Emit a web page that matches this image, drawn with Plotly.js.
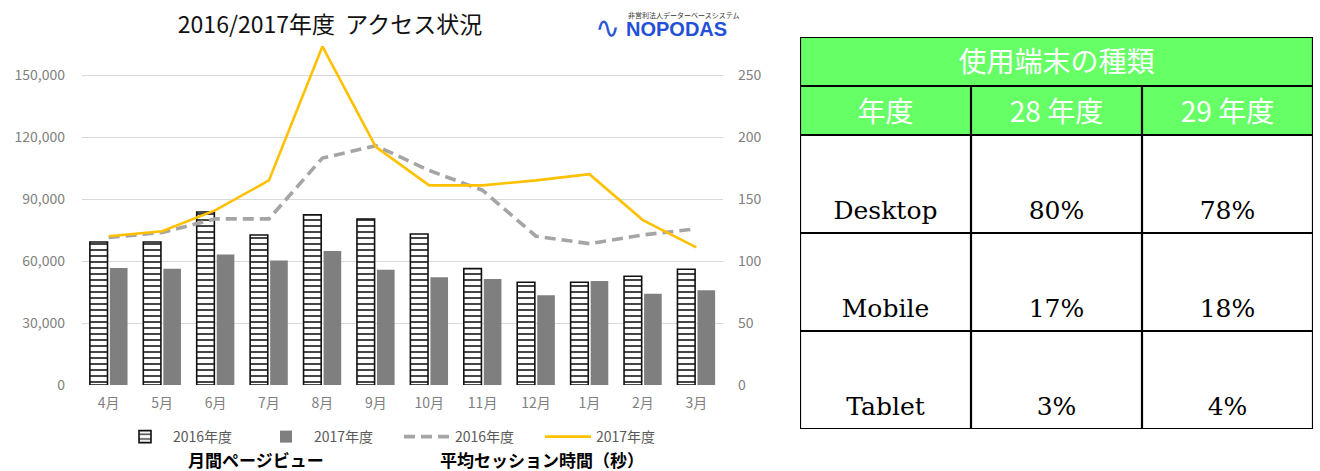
<!DOCTYPE html>
<html>
<head>
<meta charset="utf-8">
<script src="https://cdn.plot.ly/plotly-3.0.1.min.js"></script>
<style>
  html, body { margin: 0; padding: 0; background: #fff; }
  #chart { width: 1320px; height: 471px; }
</style>
</head>
<body>
<div id="chart"></div>
<script>
// ---- data ----
const months = ['4月', '5月', '6月', '7月', '8月', '9月', '10月', '11月', '12月', '1月', '2月', '3月'];
const pageViews2016 = [69200, 69200, 83700, 72600, 82300, 80300, 73100, 56300, 49700, 49700, 52600, 56000];
const pageViews2017 = [56600, 56300, 63100, 60300, 64800, 55800, 52100, 51300, 43400, 50300, 44200, 45800];
const session2016 = [119, 123, 134, 134, 183, 193, 173, 157, 120, 114, 121, 126];
const session2017 = [120, 124, 141, 165, 273, 192, 161, 161, 165, 170, 133, 111];
const leftTicks = [0, 30000, 60000, 90000, 120000, 150000];
const rightTicks = [0, 50, 100, 150, 200, 250];
const seriesNames = ['2016年度', '2017年度', '2016年度', '2017年度'];
const chartTitle = '2016/2017年度&nbsp;&nbsp;アクセス状況';
const leftAxisLabel = '月間ページビュー';
const rightAxisLabel = '平均セッション時間（秒）';

const tableTitle = '使用端末の種類';
const tableHeaders = ['年度', '28 年度', '29 年度'];
const devices = ['Desktop', 'Mobile', 'Tablet'];
const share28 = [80, 17, 3];
const share29 = [78, 18, 4];

// ---- layout helpers ----
const W = 1320, H = 471;
const px = v => v / W;
const py = v => (H - v) / H;
const JP = '"Noto Sans CJK JP", "Noto Sans", sans-serif';

// ---- chart traces ----
const traces = [
  {
    type: 'bar', name: seriesNames[0], x: months, y: pageViews2016,
    marker: {
      color: '#ffffff',
      line: { color: '#111111', width: 1.6 },
      pattern: { shape: '-', fgcolor: '#222222', bgcolor: '#ffffff', size: 6, solidity: 0.28, fillmode: 'replace' }
    },
    hoverinfo: 'skip'
  },
  {
    type: 'bar', name: seriesNames[1], x: months, y: pageViews2017,
    marker: { color: '#7f7f7f', line: { width: 0 } },
    hoverinfo: 'skip'
  },
  {
    type: 'scatter', mode: 'lines', name: seriesNames[2], x: months, y: session2016, yaxis: 'y2',
    line: { color: '#a5a5a5', width: 3.6, dash: '11px,6px' },
    hoverinfo: 'skip'
  },
  {
    type: 'scatter', mode: 'lines', name: seriesNames[3], x: months, y: session2017, yaxis: 'y2',
    line: { color: '#ffc000', width: 2.6 },
    hoverinfo: 'skip'
  }
];

// ---- table (drawn on its own hidden axes: columns 0..3, rows 0..8) ----
const nCols = tableHeaders.length;
const bodyRowSpan = 2;            // each body row spans two header-row units
const bodyTop = 2;                // title row + header row
const nUnits = bodyTop + devices.length * bodyRowSpan;

const headX = [nCols / 2].concat(tableHeaders.map((_, c) => c + 0.5));
const headY = [0.57].concat(tableHeaders.map(() => 1.6));
const headText = [tableTitle].concat(tableHeaders);

const bodyX = [], bodyY = [], bodyText = [];
devices.forEach((d, r) => {
  const yy = bodyTop + (r + 1) * bodyRowSpan - 0.42;
  [d, share28[r] + '%', share29[r] + '%'].forEach((t, c) => {
    bodyX.push(c + 0.5); bodyY.push(yy); bodyText.push(t);
  });
});

traces.push({
  type: 'scatter', mode: 'text', x: headX, y: headY, text: headText,
  xaxis: 'x3', yaxis: 'y3', showlegend: false, hoverinfo: 'skip', cliponaxis: false,
  textposition: 'middle center',
  textfont: { family: JP, size: 28, color: '#ffffff' }
});
traces.push({
  type: 'scatter', mode: 'text', x: bodyX, y: bodyY, text: bodyText,
  xaxis: 'x3', yaxis: 'y3', showlegend: false, hoverinfo: 'skip', cliponaxis: false,
  textposition: 'middle center',
  textfont: { family: '"DejaVu Serif", "Liberation Serif", serif', size: 25, color: '#000000' }
});

const shapes = [];
shapes.push({ type: 'rect', xref: 'x3', yref: 'y3', x0: 0, x1: nCols, y0: 0, y1: bodyTop,
  fillcolor: '#66ff66', line: { width: 0 }, layer: 'below' });
const hLines = [0, 1, 2];
devices.forEach((_, r) => hLines.push(bodyTop + (r + 1) * bodyRowSpan));
hLines.forEach(v => shapes.push({ type: 'line', xref: 'x3', yref: 'y3', x0: 0, x1: nCols, y0: v, y1: v,
  line: { color: '#000', width: 2.2 } }));
for (let c = 0; c <= nCols; c++) {
  const top = (c === 0 || c === nCols) ? 0 : 1;
  shapes.push({ type: 'line', xref: 'x3', yref: 'y3', x0: c, x1: c, y0: top, y1: nUnits,
    line: { color: '#000', width: 2.2 } });
}

const tickFont = { family: JP, size: 14, color: '#808080' };

const layout = {
  width: W, height: H,
  margin: { l: 0, r: 0, t: 0, b: 0 },
  paper_bgcolor: '#ffffff', plot_bgcolor: 'rgba(0,0,0,0)',
  font: { family: JP, color: '#595959', size: 14 },
  title: { text: chartTitle, x: px(330), xanchor: 'center', y: py(25), yanchor: 'middle',
    font: { family: JP, size: 23, color: '#111111' } },
  barmode: 'group', bargap: 0.25, bargroupgap: 0.12,
  showlegend: true,
  xaxis: { domain: [px(82), px(723)], anchor: 'y', showgrid: false, showline: false, zeroline: false,
    ticks: '', tickfont: tickFont, ticklabelstandoff: 8, fixedrange: true },
  yaxis: { domain: [86 / H, 458 / H], range: [0, 180000], tickvals: leftTicks, tickformat: ',d',
    showgrid: true, gridcolor: '#d9d9d9', gridwidth: 1, zeroline: false, showline: false, ticks: '',
    tickfont: tickFont, ticklabelstandoff: 16, fixedrange: true },
  yaxis2: { overlaying: 'y', side: 'right', anchor: 'x', range: [0, 300], tickvals: rightTicks,
    showgrid: false, zeroline: false, showline: false, ticks: '', tickfont: tickFont,
    ticklabelstandoff: 14, fixedrange: true },
  xaxis3: { domain: [px(800), px(1313)], range: [0, nCols], anchor: 'y3', visible: false, fixedrange: true },
  yaxis3: { domain: [42 / H, 434 / H], range: [nUnits, 0], anchor: 'x3', visible: false, fixedrange: true },
  legend: { orientation: 'h', x: px(117), xanchor: 'left', y: py(437), yanchor: 'middle',
    font: { family: JP, size: 14, color: '#595959' }, itemwidth: 46,
    entrywidth: 80, entrywidthmode: 'pixels', bgcolor: 'rgba(0,0,0,0)', traceorder: 'normal' },
  shapes: shapes,
  annotations: [
    { text: '<b>' + leftAxisLabel + '</b>', xref: 'paper', yref: 'paper', x: px(256), y: py(459),
      xanchor: 'center', yanchor: 'middle', showarrow: false, font: { family: JP, size: 17, color: '#000' } },
    { text: '<b>' + rightAxisLabel + '</b>', xref: 'paper', yref: 'paper', x: px(542), y: py(459),
      xanchor: 'center', yanchor: 'middle', showarrow: false, font: { family: JP, size: 17, color: '#000' } },
    { text: '<b>NOPODAS</b>', xref: 'paper', yref: 'paper', x: px(624), y: py(29),
      xanchor: 'left', yanchor: 'middle', showarrow: false,
      font: { family: '"Liberation Sans", Arial, sans-serif', size: 20, color: '#2350d8' } },
    { text: '非営利法人データーベースシステム', xref: 'paper', yref: 'paper', x: px(626), y: py(15),
      xanchor: 'left', yanchor: 'middle', showarrow: false, font: { family: JP, size: 7, color: '#333' } },
    { text: '∿', xref: 'paper', yref: 'paper', x: px(607), y: py(28),
      xanchor: 'center', yanchor: 'middle', showarrow: false,
      font: { family: '"DejaVu Sans", sans-serif', size: 30, color: '#2d55d6' } }
  ]
};

Plotly.newPlot('chart', traces, layout, { staticPlot: true, displayModeBar: false });
</script>
</body>
</html>
